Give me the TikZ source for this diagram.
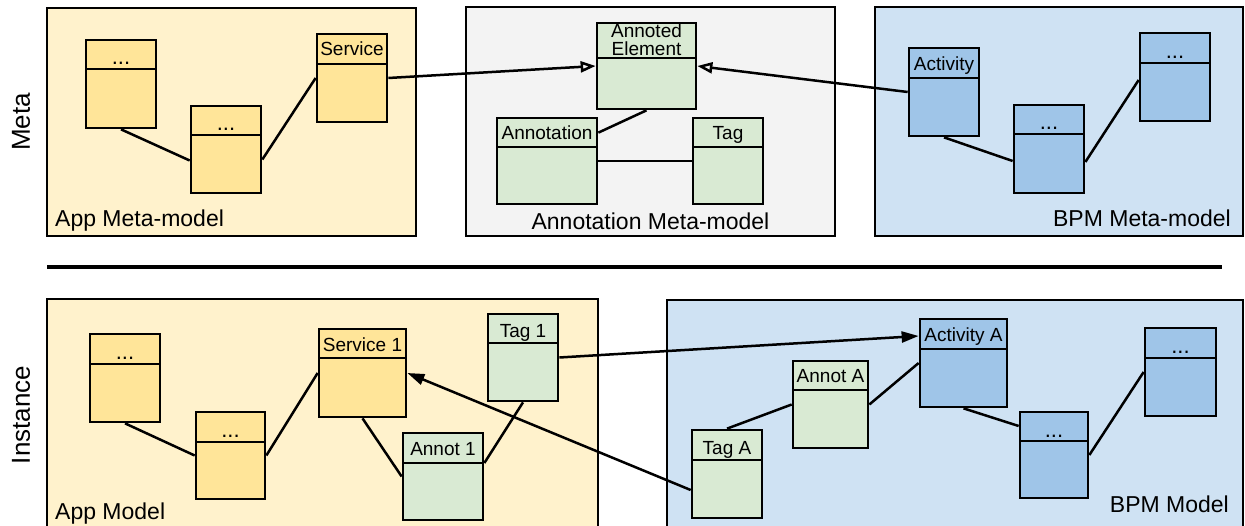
\documentclass[tikz,border=0pt]{standalone}
\usepackage{fontspec}
\setmainfont{Liberation Sans}
\usetikzlibrary{arrows.meta,calc}

\definecolor{appbg}{HTML}{FFF2CC}
\definecolor{appcls}{HTML}{FFE599}
\definecolor{annbg}{HTML}{F3F3F3}
\definecolor{anncls}{HTML}{D9EAD3}
\definecolor{bpmbg}{HTML}{CFE2F3}
\definecolor{bpmcls}{HTML}{9FC5E8}

% UML-style class box: [baseline offset]{name}{x1}{y1}{x2}{y2}{header line y}{fill}{header text}
\newcommand\classbox[9][7]{%
  \node[classnode, fill=#8, minimum width={(#5)-(#3)}, minimum height={(#6)-(#4)}]
    (#2) at ({((#3)+(#5))/2},{((#4)+(#6))/2}) {};
  \draw[classline] (#3,#7) -- (#5,#7);
  \node[headtext] (#2-head) at ({((#3)+(#5))/2},{(#7)-(#1)}) {#9};
}
% elided class name
\newcommand\elided{{\fontsize{22pt}{16pt}\selectfont ...}}

\begin{document}
\begin{tikzpicture}[x=1pt,y=-1pt,
  container/.style={draw=black, line width=2pt},
  classnode/.style={draw=black, line width=2.7pt, rectangle, inner sep=0pt},
  classline/.style={draw=black, line width=2.7pt},
  headtext/.style={anchor=base, inner sep=0pt, font=\fontsize{19pt}{16pt}\selectfont},
  grouplabel/.style={inner sep=0pt, font=\fontsize{23pt}{26pt}\selectfont},
  sidelabel/.style={inner sep=0pt, rotate=90, font=\fontsize{26pt}{28pt}\selectfont},
  conn/.style={draw=black, line width=2.5pt},
  metaarrow/.style={conn, -{Triangle[open, length=15pt, width=11pt]}},
  instarrow/.style={conn, -{Triangle[length=17pt, width=11pt]}}
]
\useasboundingbox (0,0) rectangle (1245,526);
\clip (0,0) rectangle (1245,526);

% ---------- row labels ----------
\node[sidelabel] (rowmeta) at (21,122) {Meta};
\node[sidelabel] (rowinst) at (21,415) {Instance};

% ---------- containers ----------
\draw[container, fill=appbg] (47,8) rectangle (416,236);
\draw[container, fill=annbg] (466,7) rectangle (835,236);
\draw[container, fill=bpmbg] (875,7) rectangle (1243,236);
\draw[container, fill=appbg] (47,299) rectangle (598,540);
\draw[container, fill=bpmbg] (667,300) rectangle (1243,540);

\node[grouplabel, anchor=base west] (lappmeta) at (55,227) {App Meta-model};
\node[grouplabel, anchor=base] (lannmeta) at (650.5,230) {Annotation Meta-model};
\node[grouplabel, anchor=base east] (lbpmmeta) at (1231,227) {BPM Meta-model};
\node[grouplabel, anchor=base west] (lappmodel) at (55,519) {App Model};
\node[grouplabel, anchor=base east] (lbpmmodel) at (1229,512) {BPM Model};

% separator between meta level and instance level
\coordinate (sepL) at (47,267);
\coordinate (sepR) at (1222,267);
\draw[line width=4.5pt] (sepL) -- (sepR);

% ---------- meta level ----------
\classbox[4]{am1}{86}{40}{156}{128}{69}{appcls}{\elided}
\classbox[4]{am2}{191}{106}{261}{193}{135}{appcls}{\elided}
\classbox[8]{svc}{317}{34}{387}{122}{64}{appcls}{Service}

\classbox[2]{ae}{597}{23}{696}{109}{58}{anncls}{\begin{tabular}[b]{@{}c@{}}Annoted\\Element\end{tabular}}
\classbox[7]{ann}{497}{118}{597}{204}{147}{anncls}{Annotation}
\classbox[7]{tag}{693}{118}{763}{204}{147}{anncls}{Tag}

\classbox[7]{act}{909}{48}{979}{136}{78}{bpmcls}{Activity}
\classbox[4]{bm1}{1014}{105}{1084}{193}{134}{bpmcls}{\elided}
\classbox[4]{bm2}{1140}{33}{1210}{121}{63}{bpmcls}{\elided}

% ---------- instance level ----------
\classbox[4]{ap1}{90}{334}{160}{422}{364}{appcls}{\elided}
\classbox[4]{ap2}{196}{412}{265}{499}{442}{appcls}{\elided}
\classbox[6]{s1}{319}{329}{406}{417}{358}{appcls}{Service 1}
\classbox[5]{t1}{488}{314}{558}{401}{343}{anncls}{Tag 1}
\classbox[8]{a1}{403}{433}{483}{520}{463}{anncls}{Annot 1}

\classbox[7]{actA}{920}{319}{1007}{407}{349}{bpmcls}{Activity A}
\classbox[7]{anA}{793}{361}{868}{448}{390}{anncls}{Annot A}
\classbox[6]{tA}{692}{430}{762}{518}{460}{anncls}{Tag A}
\classbox[4]{bd1}{1020}{412}{1088}{498}{441}{bpmcls}{\elided}
\classbox[4]{bd2}{1145}{328}{1216}{416}{358}{bpmcls}{\elided}

% ---------- meta connectors ----------
\draw[conn] (am1.south) -- ([yshift=-11pt]am2.west);
\draw[conn] ([yshift=-10pt]am2.east) -- (svc.west);
\draw[metaarrow] (svc.east) -- (ae.west);
\draw[conn] ([yshift=-16pt]ann.north east) -- (ae.south);
\draw[conn, line width=2pt] (ann.east) -- (tag.west);
\draw[metaarrow] (act.west) -- (ae.east);
\draw[conn] (act.south) -- ([yshift=-12pt]bm1.west);
\draw[conn] ([yshift=-13pt]bm1.east) -- ([yshift=-3pt]bm2.west);

% ---------- instance connectors ----------
\draw[conn] (ap1.south) -- (ap2.west);
\draw[conn] (ap2.east) -- (s1.west);
\draw[conn] (s1.south) -- (a1.west);
\draw[conn] ([yshift=13.5pt]a1.east) -- (t1.south);
\draw[instarrow] (t1.east) -- ([yshift=27pt]actA.west);
\draw[instarrow] ([yshift=-16pt]tA.west) -- (s1.east);
\draw[conn] (tA.north) -- (anA.west);
\draw[conn] (anA.east) -- (actA.west);
\draw[conn] (actA.south) -- ([yshift=29pt]bd1.west);
\draw[conn] (bd1.east) -- (bd2.west);
\end{tikzpicture}
\end{document}
